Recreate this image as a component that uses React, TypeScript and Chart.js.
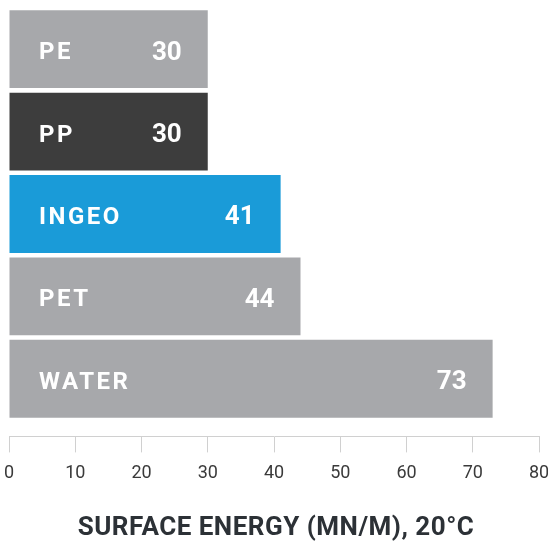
import React, { useEffect, useRef } from "react";
import { Chart, registerables } from "chart.js";

Chart.register(...registerables);

const categories = ["PE", "PP", "INGEO", "PET", "WATER"];
const values = [30, 30, 41, 44, 73];
const barColors = ["#a7a8ab", "#3d3d3d", "#1a9bd8", "#a7a8ab", "#a7a8ab"];
const xTicks = [0, 10, 20, 30, 40, 50, 60, 70, 80];
const axisTitle = "SURFACE ENERGY (MN/M), 20°C";

const barLabelPlugin = {
  id: "barLabels",
  afterDatasetsDraw(chart: any) {
    const ctx = chart.ctx;
    const meta = chart.getDatasetMeta(0);
    const xs = chart.scales.x;
    ctx.save();
    ctx.fillStyle = "#ffffff";
    ctx.textBaseline = "middle";
    meta.data.forEach((bar: any, i: number) => {
      const y = bar.y + 4;
      ctx.font = "bold 24px Roboto";
      (ctx as any).letterSpacing = "2.5px";
      ctx.textAlign = "left";
      ctx.fillText(categories[i], xs.getPixelForValue(0) + 30, y);
      (ctx as any).letterSpacing = "0px";
      ctx.font = "bold 26px Roboto";
      ctx.textAlign = "right";
      ctx.fillText(String(values[i]), bar.x - 26, y);
    });
    ctx.restore();
  },
};

const titlePlugin = {
  id: "bottomTitle",
  afterDraw(chart: any) {
    const ctx = chart.ctx;
    ctx.save();
    ctx.font = "bold 26px Roboto";
    (ctx as any).letterSpacing = "0.5px";
    ctx.fillStyle = "#2c3136";
    ctx.textAlign = "center";
    ctx.textBaseline = "middle";
    ctx.fillText(axisTitle, 276, 528);
    ctx.restore();
  },
};

export default function App() {
  const ref = useRef<HTMLCanvasElement>(null);
  useEffect(() => {
    document.body.style.margin = "0";
    const chart = new Chart(ref.current!, {
      type: "bar",
      data: {
        datasets: [
          {
            data: values.map((v, i) => ({ x: v, y: i })),
            backgroundColor: barColors,
            borderWidth: 0,
            barPercentage: 0.945,
            categoryPercentage: 1,
          },
        ],
      },
      options: {
        indexAxis: "y",
        responsive: false,
        animation: false,
        layout: { padding: { top: 8, left: 9, right: 9, bottom: 49 } },
        plugins: { legend: { display: false }, tooltip: { enabled: false } },
        scales: {
          y: {
            type: "linear",
            min: -0.5,
            max: 4.7,
            reverse: true,
            display: false,
            offset: false,
            grid: { offset: false },
            afterBuildTicks: (s: any) => {
              s.ticks = categories.map((_, i) => ({ value: i }));
            },
          },
          x: {
            type: "linear",
            min: 0,
            max: 80,
            afterBuildTicks: (s: any) => {
              s.ticks = xTicks.map((v) => ({ value: v }));
            },
            afterFit: (s: any) => {
              s.paddingLeft = 0;
              s.paddingRight = 0;
            },
            grid: {
              drawOnChartArea: false,
              drawTicks: true,
              tickLength: 16,
              color: "#d0d0d0",
              lineWidth: 1,
            },
            border: { display: true, color: "#d0d0d0", width: 1 },
            ticks: {
              color: "#3a3a3a",
              font: { family: "Roboto", size: 18 },
              padding: 10,
              maxRotation: 0,
            },
          },
        },
      } as any,
      plugins: [barLabelPlugin, titlePlugin],
    });
    return () => chart.destroy();
  }, []);
  return <canvas ref={ref} width={548} height={543} style={{ display: "block" }} />;
}
